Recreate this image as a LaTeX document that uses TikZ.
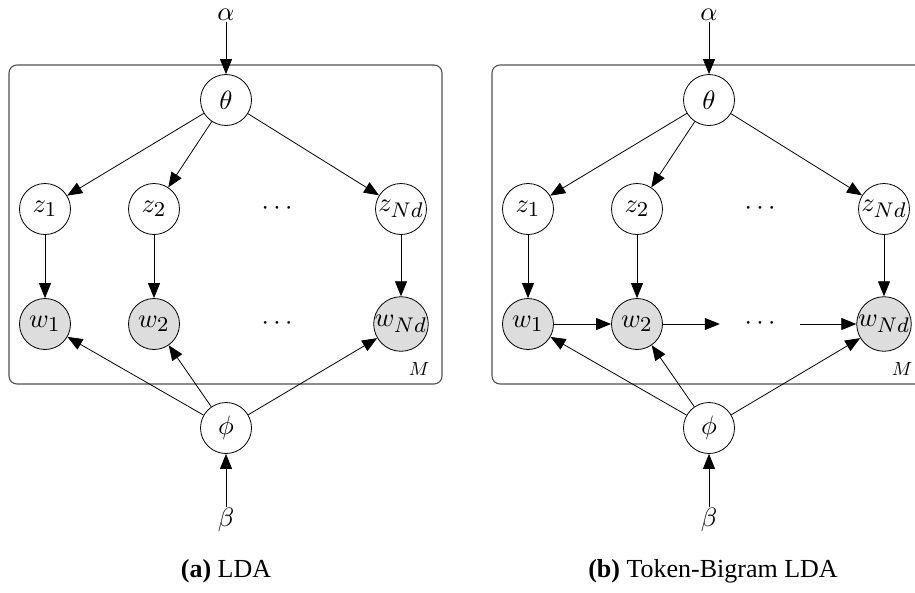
\documentclass[tikz,border=0pt]{standalone}
\usepackage{fontspec}
\usepackage{graphicx}
\setmainfont{Liberation Serif}
\newfontfamily\capfont{Liberation Serif}
\DeclareMathSizes{10}{10}{8}{6}
\newcommand{\bigmath}[1]{\scalebox{2.65}{$#1$}}
\newcommand{\midmath}[1]{\scalebox{1.9}{$#1$}}
\usetikzlibrary{arrows.meta}
\definecolor{obsfill}{RGB}{221,221,221}
\definecolor{platecol}{RGB}{80,80,80}
\tikzset{
  latent/.style={circle, draw, line width=0.8pt, minimum size=51pt, inner sep=0pt},
  obs/.style={latent, fill=obsfill},
  hyper/.style={inner sep=1pt},
  dotsnode/.style={inner sep=0pt, minimum width=80pt},
  edge/.style={-{Triangle[length=15pt,width=12pt]}, line width=0.8pt},
  plate/.style={draw=platecol, line width=1.1pt, rounded corners=8pt},
  caption/.style={anchor=base, font=\capfont\fontsize{26}{30}\selectfont}
}
\begin{document}
\begin{tikzpicture}[x=1pt, y=-1pt]
\useasboundingbox (0,0) rectangle (915,592);
\clip (0,0) rectangle (915,592);
% ---------- panel (a) ----------
\draw[plate] (9,65) rectangle (442,384);
\node (aM) at (419,369) {\midmath{M}};
\node[latent] (atheta) at (226,100) {\bigmath{\theta}};
\node[hyper] (aalpha) at (226,15) {\bigmath{\alpha}};
\node[latent] (az1) at (45,209) {\bigmath{z_1}};
\node[latent] (az2) at (154,209) {\bigmath{z_2}};
\node[dotsnode] (azd) at (277,209) {\bigmath{\cdots}};
\node[latent] (azN) at (401,209) {\bigmath{z_{Nd}}};
\node[obs] (aw1) at (45,324) {\bigmath{w_1}};
\node[obs] (aw2) at (154,324) {\bigmath{w_2}};
\node[dotsnode] (awd) at (277,324) {\bigmath{\cdots}};
\node[obs] (awN) at (401,324) {\bigmath{w_{Nd}}};
\node[latent, fill=white] (aphi) at (226,428) {\bigmath{\phi}};
\node[hyper] (abeta) at (226,520) {\bigmath{\beta}};
\draw[edge] (aalpha) -- (atheta);
\draw[edge] (atheta) -- (az1);
\draw[edge] (atheta) -- (az2);
\draw[edge] (atheta) -- (azN);
\draw[edge] (az1) -- (aw1);
\draw[edge] (az2) -- (aw2);
\draw[edge] (azN) -- (awN);
\draw[edge] (aphi) -- (aw1);
\draw[edge] (aphi) -- (aw2);
\draw[edge] (aphi) -- (awN);
\draw[edge] (abeta) -- (aphi);
\node[caption] (acap) at (226,577) {\textbf{(a)} LDA};
% ---------- panel (b) ----------
\draw[plate] (492,65) rectangle (925,384);
\node (bM) at (902,369) {\midmath{M}};
\node[latent] (btheta) at (709,100) {\bigmath{\theta}};
\node[hyper] (balpha) at (709,15) {\bigmath{\alpha}};
\node[latent] (bz1) at (528,209) {\bigmath{z_1}};
\node[latent] (bz2) at (637,209) {\bigmath{z_2}};
\node[dotsnode] (bzd) at (760,209) {\bigmath{\cdots}};
\node[latent] (bzN) at (884,209) {\bigmath{z_{Nd}}};
\node[obs] (bw1) at (528,324) {\bigmath{w_1}};
\node[obs] (bw2) at (637,324) {\bigmath{w_2}};
\node[dotsnode] (bwd) at (760,324) {\bigmath{\cdots}};
\node[obs] (bwN) at (884,324) {\bigmath{w_{Nd}}};
\node[latent, fill=white] (bphi) at (709,428) {\bigmath{\phi}};
\node[hyper] (bbeta) at (709,520) {\bigmath{\beta}};
\draw[edge] (balpha) -- (btheta);
\draw[edge] (btheta) -- (bz1);
\draw[edge] (btheta) -- (bz2);
\draw[edge] (btheta) -- (bzN);
\draw[edge] (bz1) -- (bw1);
\draw[edge] (bz2) -- (bw2);
\draw[edge] (bzN) -- (bwN);
\draw[edge] (bw1) -- (bw2);
\draw[edge] (bw2) -- (bwd.west);
\draw[edge] (bwd.east) -- (bwN);
\draw[edge] (bphi) -- (bw1);
\draw[edge] (bphi) -- (bw2);
\draw[edge] (bphi) -- (bwN);
\draw[edge] (bbeta) -- (bphi);
\node[caption] (bcap) at (713,577) {\textbf{(b)} Token-Bigram LDA};
\end{tikzpicture}
\end{document}
